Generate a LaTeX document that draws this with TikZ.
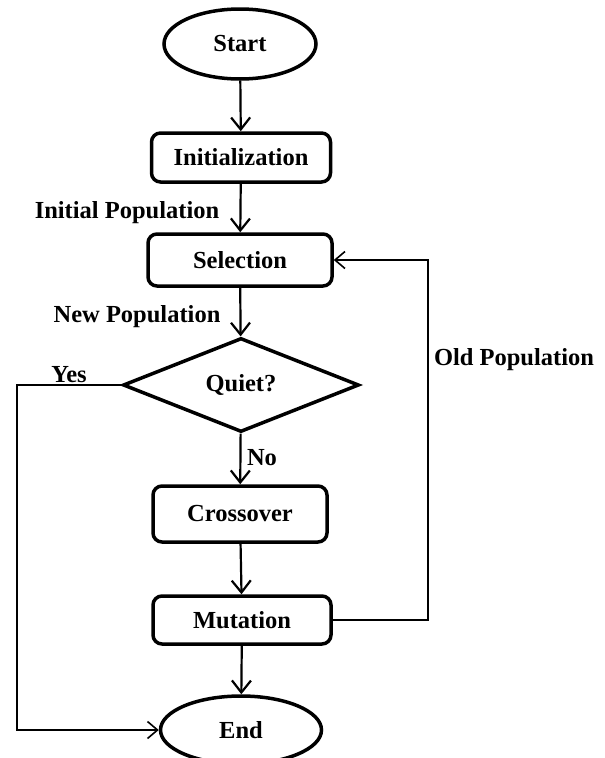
\documentclass[tikz,border=0pt]{standalone}
\usepackage{fontspec}
\setmainfont{Liberation Serif}
\usetikzlibrary{arrows.meta,shapes.geometric}
\begin{document}
\begin{tikzpicture}[x=1pt,y=-1pt,
  txt/.style={font=\bfseries\fontsize{24.5}{26}\selectfont},
  procbox/.style={txt,draw,line width=3.5pt,rounded corners=9pt,inner sep=0pt},
  term/.style={txt,draw,ellipse,line width=3.5pt,inner sep=0pt},
  decide/.style={txt,draw,diamond,line width=3.5pt,inner sep=0pt},
  flow/.style={line width=2.2pt,-{Straight Barb[length=12pt,width=19pt,line width=2.2pt]}},
  back/.style={line width=1.6pt,-{Straight Barb[length=10pt,width=17pt,line width=1.6pt]}},
  lbl/.style={txt,inner sep=0pt}]
\useasboundingbox (0,0) rectangle (605,758);
\fill[white] (0,0) rectangle (605,758);
\node[term,minimum width=152pt,minimum height=70pt] (start) at (240,44) {Start};
\node[procbox,minimum width=179pt,minimum height=49pt] (init) at (241,157.5) {Initialization};
\node[procbox,minimum width=184pt,minimum height=52pt] (sel) at (240,260) {Selection};
\node[decide,minimum width=236pt,minimum height=94pt] (quiet) at (241,385) {Quiet?};
\node[procbox,minimum width=174pt,minimum height=56pt] (cross) at (240,514) {Crossover};
\node[procbox,minimum width=178pt,minimum height=48pt] (mut) at (242,620) {Mutation};
\node[term,minimum width=161pt,minimum height=68pt] (end) at (241,730) {End};
\coordinate (yl) at (17,385);
\coordinate (or) at (428,620);
\draw[flow] (start) -- (init);
\draw[flow] (init) -- (sel);
\draw[flow] (sel) -- (quiet);
\draw[flow] (quiet) -- (cross);
\draw[flow] (cross) -- (mut);
\draw[flow] (mut) -- (end);
\draw[back] (quiet.west) -- (yl) |- (end.west);
\draw[back] (mut.east) -- (or) |- (sel.east);
\node[lbl] (lip) at (127,213) {Initial Population};
\node[lbl] (lnp) at (137,317) {New Population};
\node[lbl] (lyes) at (69,375) {Yes};
\node[lbl] (lno) at (262,458) {No};
\node[lbl] (lop) at (514,360) {Old Population};
\end{tikzpicture}
\end{document}
